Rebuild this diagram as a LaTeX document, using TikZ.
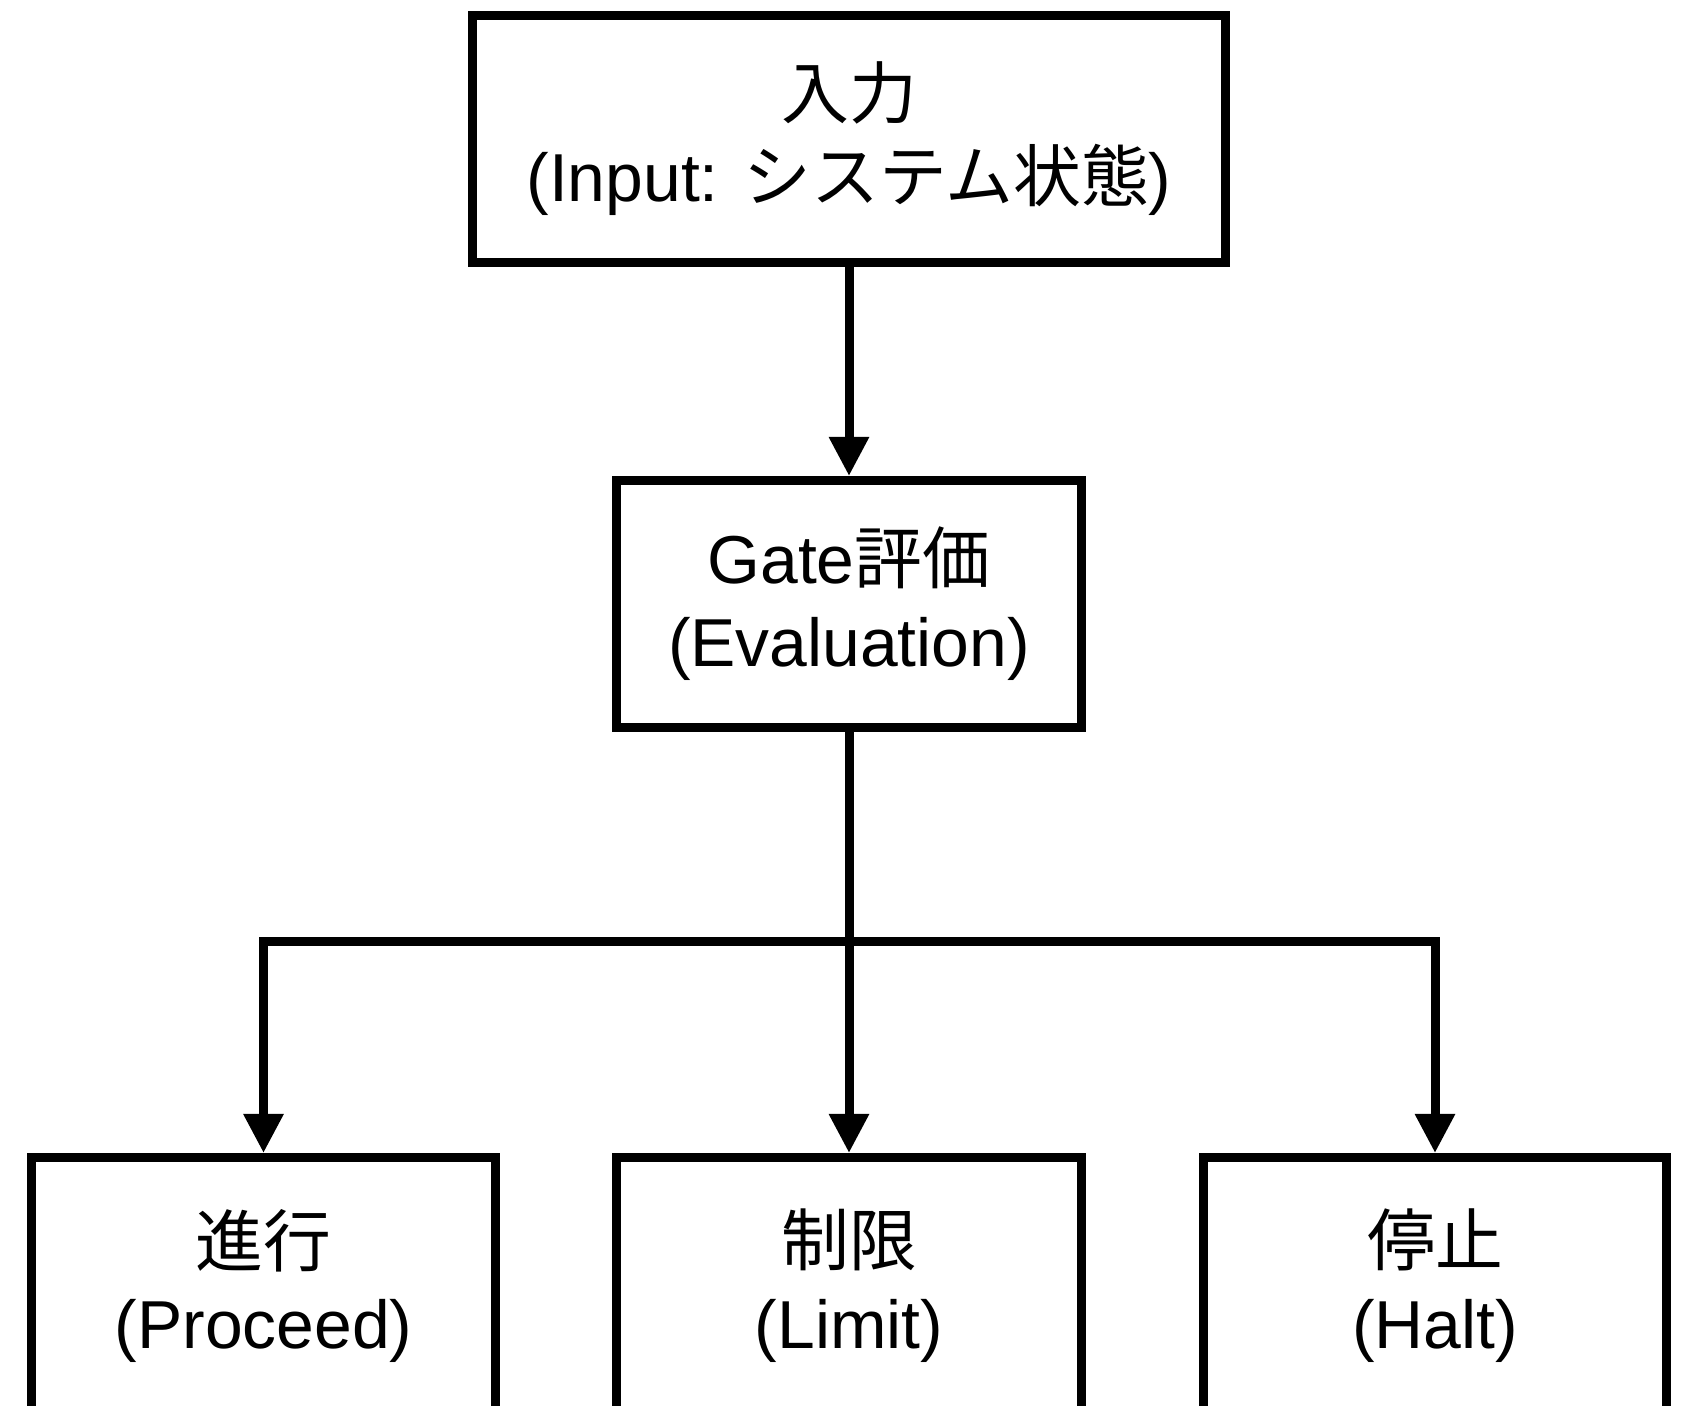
\documentclass[tikz,border=0pt]{standalone}
\usepackage{fontspec}
\setmainfont{Liberation Sans}
\newfontfamily\jp{Noto Sans CJK JP}
\usetikzlibrary{arrows.meta}

\tikzset{
	stage/.style={draw=black, line width=0.09cm, fill=white, align=center, inner sep=0pt,
		minimum height=2.47cm, font=\fontsize{19.3}{23.6}\selectfont},
	flow/.style={line width=0.09cm, -{Triangle[length=0.39cm,width=0.38cm]}}
}

\begin{document}
\begin{tikzpicture}
	% Fix the page size
	\useasboundingbox (0,0) rectangle (16.82,14.06);
	\fill[white] (0,0) rectangle (16.82,14.06);

	% Draw the stages
	\node [stage, minimum width=7.53cm] (input) at (8.49,12.67) {{\jp 入力}\\(Input: {\jp システム状態})};
	\node [stage, minimum width=4.65cm] (gate) at (8.49,8.02) {Gate{\jp 評価}\\(Evaluation)};

	\node [stage, minimum width=4.64cm, minimum height=2.57cm] (proceed) at (2.635,1.2) {{\jp 進行}\\(Proceed)};
	\node [stage, minimum width=4.65cm, minimum height=2.57cm] (limit) at (8.49,1.2) {{\jp 制限}\\(Limit)};
	\node [stage, minimum width=4.63cm, minimum height=2.57cm] (halt) at (14.35,1.2) {{\jp 停止}\\(Halt)};

	\coordinate (split) at (8.49,4.64);

	% Connect them
	\draw[flow] (input) -- (gate);
	\draw[line width=0.09cm] (gate) -- (split);
	\draw[flow] (split) -| (proceed);
	\draw[flow] (split) -- (limit);
	\draw[flow] (split) -| (halt);

\end{tikzpicture}
\end{document}
